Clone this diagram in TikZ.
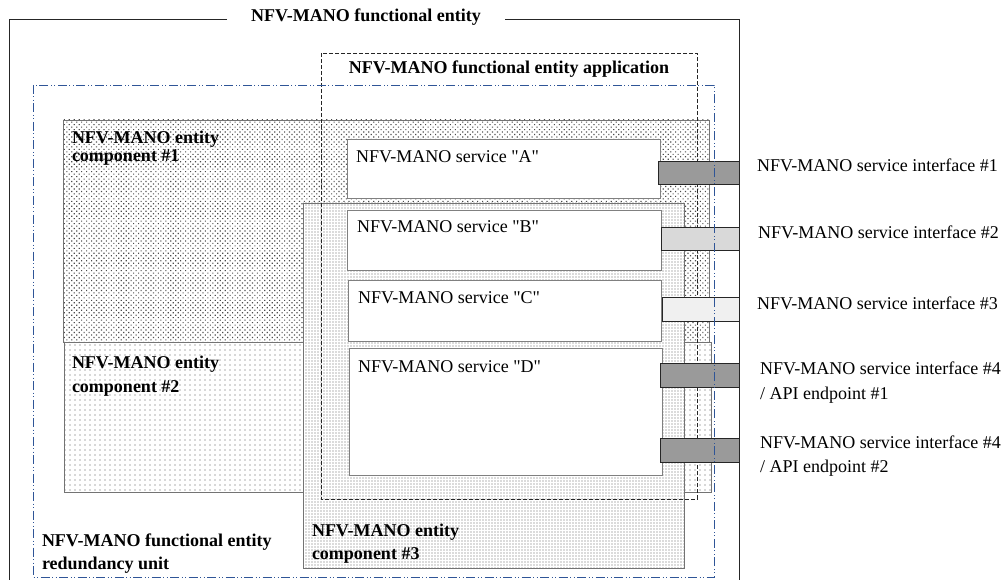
\documentclass[tikz,border=0pt]{standalone}
\usepackage{fontspec}
\setmainfont{Liberation Serif}
\usetikzlibrary{patterns,patterns.meta}

\definecolor{ruBlue}{HTML}{2F5597}
\definecolor{ifDark}{HTML}{9A9A9A}
\definecolor{ifLight}{HTML}{D9D9D9}
\definecolor{ifPale}{HTML}{F0F0F0}

\begin{document}
\begin{tikzpicture}[
  x=1pt, y=-1pt,
  every node/.style={inner sep=0pt, outer sep=0pt},
  comp/.style={draw=black!55, line width=0.6pt, anchor=north west, preaction={fill=white}},
  compA/.style={comp, pattern={Dots[distance=3.5pt, radius=0.8pt, angle=45]}, pattern color=black!70},
  compB/.style={comp, pattern={Dots[distance=5pt, radius=0.65pt]}, pattern color=black!65},
  compC/.style={comp, pattern={Dots[distance=3pt, radius=0.6pt]}, pattern color=black!60},
  svc/.style={draw=black!50, fill=white, line width=0.6pt, anchor=north west},
  iface/.style={draw=black!85, line width=0.9pt, anchor=north west},
  appframe/.style={draw=black!85, line width=0.8pt, dash pattern=on 4pt off 2pt},
  ruframe/.style={draw=ruBlue, line width=0.9pt,
    dash pattern=on 9pt off 2.5pt on 1pt off 2.5pt on 1pt off 2.5pt},
  txt/.style={font=\fontsize{18}{22}\selectfont, anchor=west, align=left},
  btxt/.style={txt, font=\fontsize{18}{22}\selectfont\bfseries},
]
\useasboundingbox (0,0) rectangle (1006,580);

% NFV-MANO entity components (patterned areas)
\node[compA, minimum width=646pt, minimum height=222pt] (comp1) at (63,120) {};
\node[compB, minimum width=647pt, minimum height=150pt] (comp2) at (64,342) {};
\node[compC, minimum width=381pt, minimum height=365pt] (comp3) at (303,203) {};

% functional entity application (dashed frame)
\draw[appframe] (321,53) rectangle (697,499);
\coordinate (appTop) at (509,69);

% NFV-MANO services
\node[svc, minimum width=313pt, minimum height=59pt]  (svcA) at (347,139) {};
\node[svc, minimum width=314pt, minimum height=60pt]  (svcB) at (347,210) {};
\node[svc, minimum width=313pt, minimum height=61pt]  (svcC) at (348,280) {};
\node[svc, minimum width=313pt, minimum height=127pt] (svcD) at (349,348) {};

% service interfaces
\node[iface, fill=ifDark,  minimum width=81pt, minimum height=23pt] (if1)  at (658,161) {};
\node[iface, fill=ifLight, minimum width=78pt, minimum height=23pt] (if2)  at (661,227) {};
\node[iface, fill=ifPale,  minimum width=77pt, minimum height=24pt] (if3)  at (662,297) {};
\node[iface, fill=ifDark,  minimum width=79pt, minimum height=24pt] (if4a) at (660,363) {};
\node[iface, fill=ifDark,  minimum width=79pt, minimum height=24pt] (if4b) at (660,438) {};

% redundancy unit (blue dash-dot-dot frame)
\draw[ruframe] (33,85) rectangle (714,577);

% functional entity (outer frame, open at the bottom)
\node[btxt, anchor=center] (feTitle) at (366,17) {NFV-MANO functional entity};
\draw[line width=0.8pt, black!85] (227,19) -- (9,19) -- (9,580);
\draw[line width=0.8pt, black!85] (505,19) -- (739,19) -- (739,580);

% titles and labels
\node[btxt, anchor=center] (appTitle) at (appTop) {NFV-MANO functional entity application};

\node[btxt, font=\fontsize{18}{18}\selectfont\bfseries] (comp1lbl) at (72,148) {NFV-MANO entity\\component \#1};
\node[btxt, font=\fontsize{18}{23.5}\selectfont\bfseries] (comp2lbl) at (72,376) {NFV-MANO entity\\component \#2};
\node[btxt, font=\fontsize{18}{23}\selectfont\bfseries] (comp3lbl) at (312,544) {NFV-MANO entity\\component \#3};
\node[btxt, font=\fontsize{18}{23}\selectfont\bfseries] (rulbl) at (42,554) {NFV-MANO functional entity\\redundancy unit};

\node[txt] (svcAlbl) at (356,157) {NFV-MANO service \textquotedbl A\textquotedbl};
\node[txt] (svcBlbl) at (357,227) {NFV-MANO service \textquotedbl B\textquotedbl};
\node[txt] (svcClbl) at (358,298) {NFV-MANO service \textquotedbl C\textquotedbl};
\node[txt] (svcDlbl) at (358,367) {NFV-MANO service \textquotedbl D\textquotedbl};

\node[txt] (if1lbl)  at (757,165) {NFV-MANO service interface \#1};
\node[txt] (if2lbl)  at (758,232) {NFV-MANO service interface \#2};
\node[txt] (if3lbl)  at (757,303) {NFV-MANO service interface \#3};
\node[txt, font=\fontsize{18}{25}\selectfont] (if4albl) at (760,382.5) {NFV-MANO service interface \#4\\/ API endpoint \#1};
\node[txt, font=\fontsize{18}{24}\selectfont] (if4blbl) at (760,456.5) {NFV-MANO service interface \#4\\/ API endpoint \#2};
\end{tikzpicture}
\end{document}
